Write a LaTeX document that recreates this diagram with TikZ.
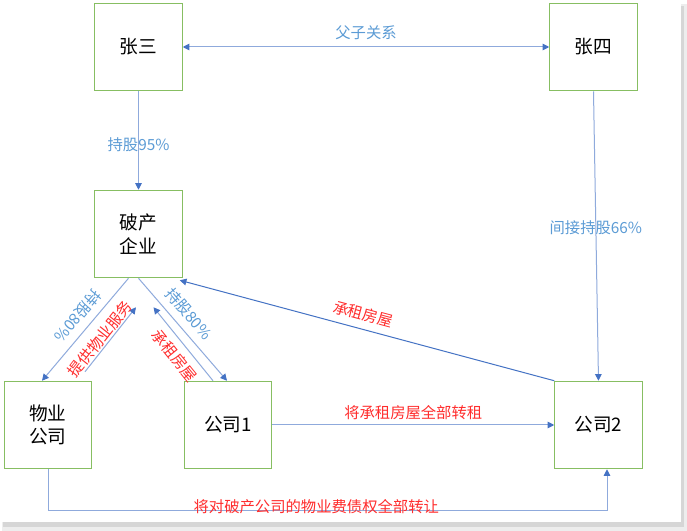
\documentclass[tikz,border=0pt]{standalone}
\usepackage{fontspec}
\setmainfont{Noto Sans CJK SC}
\usetikzlibrary{arrows.meta,calc}
\definecolor{boxgreen}{RGB}{135,190,98}
\definecolor{linkblue}{RGB}{143,170,220}
\definecolor{tipblue}{RGB}{68,114,196}
\definecolor{labelblue}{RGB}{91,155,213}
\definecolor{labelred}{RGB}{255,45,45}
\begin{document}
\begin{tikzpicture}[x=0.75pt,y=-0.75pt,
        box/.style={draw=boxgreen,line width=0.9pt,minimum width=65.5pt,minimum height=65.5pt,inner sep=0pt,align=center,font=\fontsize{14}{17.5}\selectfont},
        link/.style={draw=linkblue,line width=0.75pt,->},
        bluelabel/.style={text=labelblue,font=\fontsize{11.5}{14}\selectfont},
        redlabel/.style={text=labelred,font=\fontsize{11.5}{14}\selectfont},
        >={Triangle[length=5pt,width=5pt,color=tipblue]}]
        \useasboundingbox (0,0) rectangle (687,531);
        \fill [color=black!7] (2,4) rectangle (687,531);
        \fill [color=black!16] (3,6) rectangle (684,527);
        \fill [color=white] (0,0) rectangle (681,522);
        \node [box] (zhangsan) at (138.5,47) {张三};
        \node [box] (zhangsi) at (593.5,47) {张四};
        \node [box] (pochan) at (138.5,234) {破产\\企业};
        \node [box] (wuye) at (48,425) {物业\\公司};
        \node [box] (gongsi1) at (228,425) {公司1};
        \node [box] (gongsi2) at (598.5,425) {公司2};
        \draw [link,<->] (zhangsan) -- node [bluelabel,above=2pt] {父子关系} (zhangsi);
        \draw [link] (zhangsan) -- node [bluelabel,yshift=-3pt] {持股95\%} (pochan);
        \draw [link] (zhangsi.south) -- node [bluelabel,pos=0.47] {间接持股66\%} (gongsi2.north);
        \draw [link] ($(pochan.south)+(-10,0)$) -- node [bluelabel,pos=0.46,sloped,allow upside down,below,inner sep=5pt] {持股80\%} ($(wuye.north)+(-6,0)$);
        \draw [link] ($(wuye.north)+(37,-9)$) -- node [redlabel,pos=0.43,sloped,above,inner sep=1pt] {提供物业服务} ($(pochan.south)+(-2.5,29)$);
        \draw [link] (pochan.south) -- node [bluelabel,pos=0.44,sloped,above,inner sep=5.5pt] {持股80\%} ($(gongsi1.north)+(-1,0)$);
        \draw [link] ($(gongsi1.north)+(-15,0)$) -- node [redlabel,pos=0.46,sloped,below,inner sep=5pt] {承租房屋} ($(pochan.south)+(15,29)$);
        \draw [link,draw=tipblue] (gongsi2.north west) -- node [redlabel,pos=0.52,sloped,above=2pt] {承租房屋} ($(pochan.south east)+(-3,2)$);
        \draw [link] (gongsi1) -- node [redlabel,above] {将承租房屋全部转租} (gongsi2);
        \draw [link] (wuye.south) -- ++(0,41) -| node [redlabel,pos=0.24,yshift=3pt] {将对破产公司的物业费债权全部转让} ($(gongsi2.south)+(8.5,0)$);
\end{tikzpicture}
\end{document}
